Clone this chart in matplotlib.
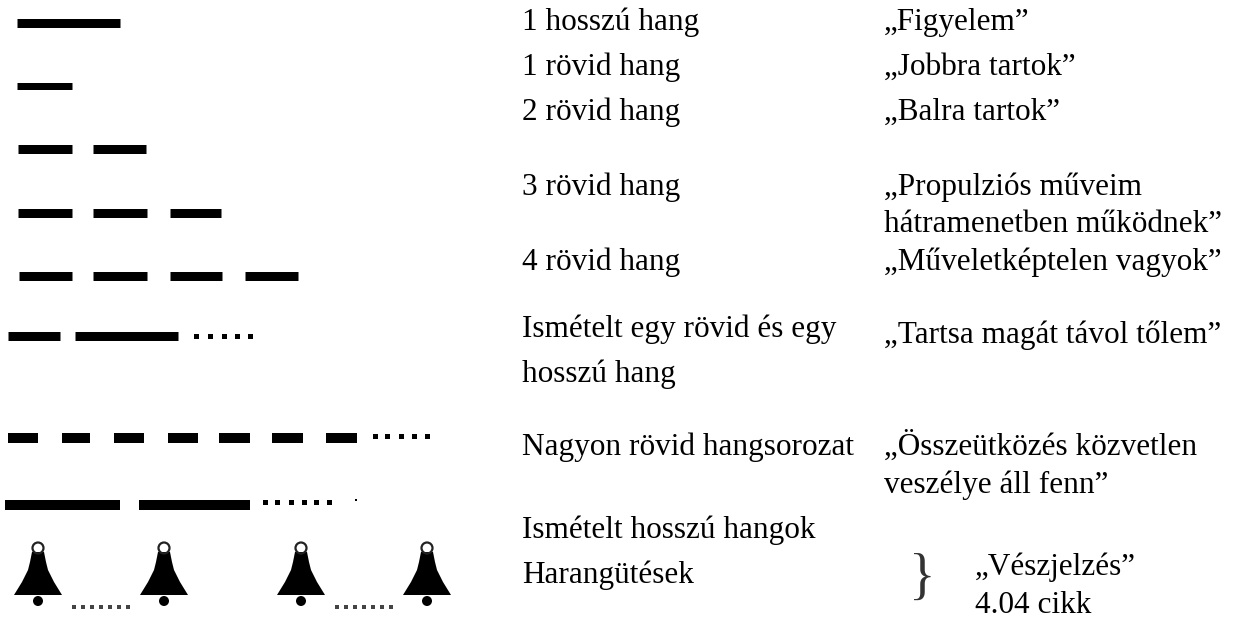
#!/usr/bin/env python3
import matplotlib
matplotlib.use("Agg")
import matplotlib.pyplot as plt
from matplotlib.patches import Polygon, Circle, Ellipse

plt.rcParams["font.family"] = ["Liberation Serif", "DejaVu Serif"]

# signal rows, pixel spans: (y, thickness, [(x0, x1), ...])
ROW_Y = [23, 86, 149, 213, 276, 336, 438, 505]
ROW_H = [9, 7, 9, 9, 9, 9, 10, 10]
ROW_DASHES = [
    [(17, 120)],
    [(17, 72)],
    [(18, 72), (93, 146)],
    [(18, 72), (93, 147), (170, 221)],
    [(19, 72), (93, 147), (170, 222), (245, 298)],
    [(8, 60), (75, 178)],
    [(8, 38), (62, 90), (114, 144), (168, 198), (219, 250), (272, 303), (326, 357)],
    [(5, 120), (139, 250)],
]
# little dots trailing the repeated signals: (y, x positions)
DOT_Y = [336, 436, 502]
DOT_X = [
    [196, 210, 224, 237, 250],
    [375, 387, 401, 414, 427],
    [265, 277, 291, 304, 316, 329],
]
BELL_X = [38, 164, 301, 427]
BELL_DOT_Y = 607
BELL_DOTS = [[74, 83, 92, 101, 110, 119, 128], [337, 346, 355, 364, 373, 382, 391]]

SOUNDS = [
    (522, 30, "1 hosszú hang"),
    (522, 75, "1 rövid hang"),
    (522, 120, "2 rövid hang"),
    (522, 195, "3 rövid hang"),
    (522, 270, "4 rövid hang"),
    (522, 337, "Ismételt egy rövid és egy"),
    (522, 382, "hosszú hang"),
    (522, 455, "Nagyon rövid hangsorozat"),
    (522, 538, "Ismételt hosszú hangok"),
    (522, 583, "Harangütések"),
]
MEANINGS = [
    (884, 30, "\u201eFigyelem\u201d"),
    (884, 75, "\u201eJobbra tartok\u201d"),
    (884, 120, "\u201eBalra tartok\u201d"),
    (884, 195, "\u201ePropulziós műveim"),
    (884, 232, "hátramenetben működnek\u201d"),
    (884, 270, "\u201eMűveletképtelen vagyok\u201d"),
    (884, 343, "\u201eTartsa magát távol tőlem\u201d"),
    (884, 455, "\u201eÖsszeütközés közvetlen"),
    (884, 493, "veszélye áll fenn\u201d"),
    (975, 575, "\u201eVészjelzés\u201d"),
    (975, 613, "4.04 cikk"),
]

fig = plt.figure(figsize=(12.34, 6.2), dpi=100)
ax = fig.add_axes([0, 0, 1, 1])
ax.set_xlim(0, 1234)
ax.set_ylim(620, 0)
ax.axis("off")

for y, h, dashes in zip(ROW_Y, ROW_H, ROW_DASHES):
    for x0, x1 in dashes:
        ax.plot([x0, x1], [y, y], color="black", lw=h * 0.72, solid_capstyle="butt")

for y, xs in zip(DOT_Y, DOT_X):
    ax.plot(xs, [y] * len(xs), ls="none", marker="s", ms=3.6, color="black", mew=0)
ax.plot([356], [500], ls="none", marker="s", ms=1.5, color="black", mew=0)

for xs in BELL_DOTS:
    ax.plot(xs, [BELL_DOT_Y] * len(xs), ls="none", marker="s", ms=2.6, color="#444444", mew=0)

for bx in BELL_X:
    outline = [(-6, 552), (6, 552), (8, 562), (10, 570), (16, 582), (24, 595),
               (-24, 595), (-16, 582), (-10, 570), (-8, 562)]
    ax.add_patch(Polygon([(bx + dx, y) for dx, y in outline], closed=True, color="black", lw=0))
    ax.add_patch(Ellipse((bx, 548), 11, 11, fill=False, ec="#222222", lw=1.6))
    ax.add_patch(Circle((bx, 601), 5, color="black", lw=0))

for x, y, s in SOUNDS + MEANINGS:
    ax.text(x, y, s, fontsize=22.5, color="black", ha="left", va="baseline")

ax.text(922, 580, "}", fontsize=40, color="#333333", ha="center", va="center")

fig.savefig("out.png", dpi=100)
